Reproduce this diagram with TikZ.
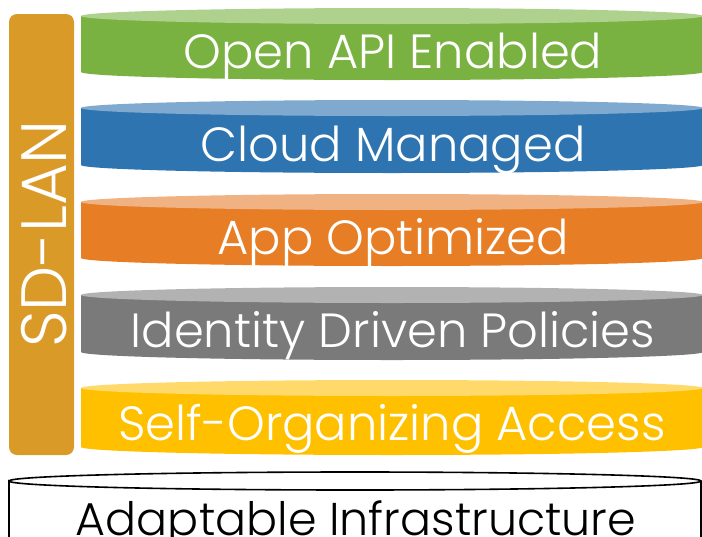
\documentclass[tikz,border=0pt]{standalone}
\usepackage{fontspec}
\setmainfont{Poppins}[UprightFont=* Light]
\definecolor{gBody}{HTML}{7AB241}
\definecolor{gTop}{HTML}{AED18E}
\definecolor{bBody}{HTML}{2E74B0}
\definecolor{bTop}{HTML}{7FA9CF}
\definecolor{oBody}{HTML}{E77E26}
\definecolor{oTop}{HTML}{F0B183}
\definecolor{kBody}{HTML}{7A7A7A}
\definecolor{kTop}{HTML}{B2B2B2}
\definecolor{yBody}{HTML}{FFC000}
\definecolor{yTop}{HTML}{FFDA6B}
\definecolor{barC}{HTML}{DA9A28}
\tikzset{
  layertext/.style={text=white, font=\fontsize{48}{48}\selectfont, anchor=base, inner sep=0pt},
}
\newcommand{\disk}[4]{% top y, bottom y, body colour, top colour
  \fill[#3] (81,#1) -- (81,#2) arc[start angle=180, end angle=0, x radius=311, y radius=8] -- (703,#1) -- cycle;
  \fill[#4] (392,#1) ellipse[x radius=311, y radius=8];
}
\begin{document}
\begin{tikzpicture}[x=1pt,y=-1pt]
\useasboundingbox (0,0) rectangle (702,536);
\clip (0,0) rectangle (702,536);
% SD-LAN bar
\fill[barC, rounded corners=8pt] (9,14) rectangle (74,455);
\node[text=white, rotate=90, font=\fontsize{64}{64}\selectfont, inner sep=0pt] (sdlan) at (44,234) {SD-LAN};
% layers
\disk{16}{72}{gBody}{gTop}
\node[layertext] (l1) at (393,68) {Open API Enabled};
\disk{108}{165}{bBody}{bTop}
\node[layertext] (l2) at (393,161) {Cloud Managed};
\disk{202}{258}{oBody}{oTop}
\node[layertext] (l3) at (393,254) {App Optimized};
\disk{295}{352}{kBody}{kTop}
\node[layertext] (l4) at (393,347) {Identity Driven Policies};
\disk{388}{447}{yBody}{yTop}
\node[layertext] (l5) at (392,440) {Self-Organizing Access};
% base cylinder
\draw[black, line width=1.6pt] (9,545) -- (9,481) arc[start angle=180, end angle=-180, x radius=346, y radius=9];
\draw[black, line width=1.6pt] (701,481) -- (701,545);
\node[font=\fontsize{46}{46}\selectfont, anchor=base, inner sep=0pt] (base) at (356,535) {Adaptable Infrastructure};
\end{tikzpicture}
\end{document}
